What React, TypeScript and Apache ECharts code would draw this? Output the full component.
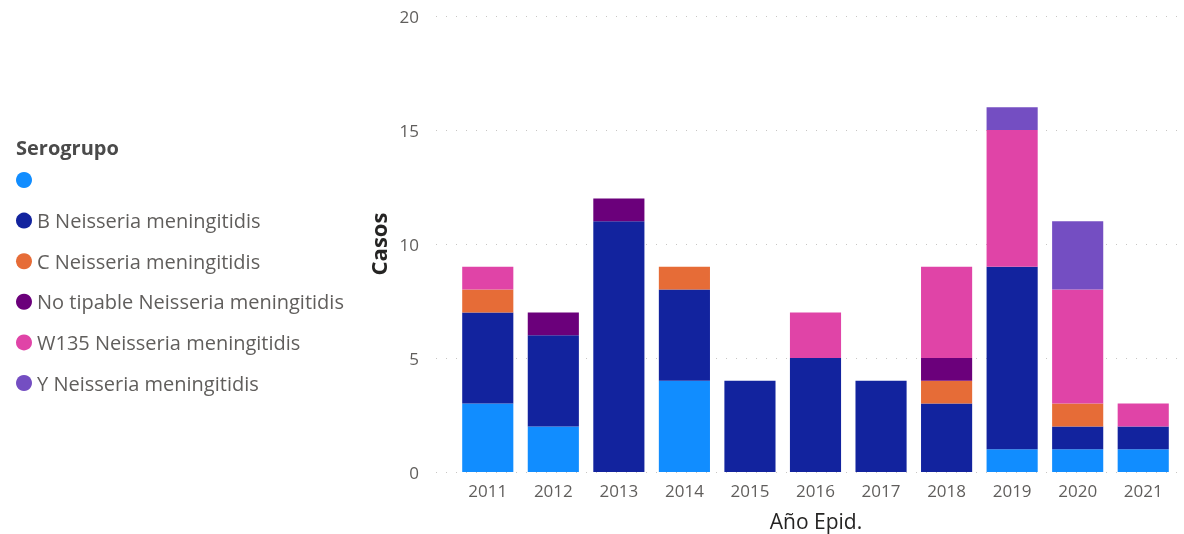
import React, { useEffect, useRef } from "react";
import * as echarts from "echarts";

const years = ["2011", "2012", "2013", "2014", "2015", "2016", "2017", "2018", "2019", "2020", "2021"];
const seriesNames = [
  " ",
  "B Neisseria meningitidis",
  "C Neisseria meningitidis",
  "No tipable Neisseria meningitidis",
  "W135 Neisseria meningitidis",
  "Y Neisseria meningitidis",
];
const colors = ["#118DFF", "#12239E", "#E66C37", "#6B007B", "#E044A7", "#744EC2"];
const blankVals = [3, 2, 0, 4, 0, 0, 0, 0, 1, 1, 1];
const bVals = [4, 4, 11, 4, 4, 5, 4, 3, 8, 1, 1];
const cVals = [1, 0, 0, 1, 0, 0, 0, 1, 0, 1, 0];
const ntVals = [0, 1, 1, 0, 0, 0, 0, 1, 0, 0, 0];
const wVals = [1, 0, 0, 0, 0, 2, 0, 4, 6, 5, 1];
const yVals = [0, 0, 0, 0, 0, 0, 0, 0, 1, 3, 0];
const allVals = [blankVals, bVals, cVals, ntVals, wVals, yVals];

const FONT = "'Open Sans', 'Noto Sans', sans-serif";

export default function App() {
  const ref = useRef<HTMLDivElement>(null);
  useEffect(() => {
    if (!ref.current) return;
    const chart = echarts.init(ref.current, null, { renderer: "svg" });
    chart.setOption({
      animation: false,
      textStyle: { fontFamily: FONT },
      grid: [
        { left: 436, right: 4, top: 16, bottom: 62 },
        { left: 455, right: 8, top: 16, bottom: 62 },
      ],
      legend: {
        orient: "vertical",
        left: 11,
        top: 165,
        icon: "circle",
        itemWidth: 16,
        itemHeight: 16,
        itemGap: 20.6,
        data: seriesNames,
        textStyle: { color: "#605E5C", fontSize: 20, lineHeight: 20, fontFamily: FONT },
        selectedMode: false,
      },
      graphic: [
        {
          type: "text",
          x: 16,
          y: 147,
          style: {
            text: "Serogrupo",
            fill: "#4A4A4A",
            font: `bold 20px ${FONT}`,
            verticalAlign: "middle",
          },
        },
        {
          type: "text",
          x: 378,
          y: 244,
          rotation: Math.PI / 2,
          style: {
            text: "Casos",
            fill: "#252423",
            font: `bold 22px ${FONT}`,
            align: "center",
            verticalAlign: "middle",
          },
        },
        {
          type: "text",
          x: 816,
          y: 521,
          style: {
            text: "Año Epid.",
            fill: "#252423",
            font: `21px ${FONT}`,
            align: "center",
            verticalAlign: "middle",
          },
        },
      ],
      xAxis: [
        { type: "value", gridIndex: 0, show: false, min: 0, max: 1 },
        {
          type: "category",
          gridIndex: 1,
          data: years,
          axisLine: { show: false },
          axisTick: { show: false },
          axisLabel: { color: "#605E5C", fontSize: 17, margin: 10, fontFamily: FONT },
        },
      ],
      yAxis: [
        {
          type: "value",
          gridIndex: 0,
          min: 0,
          max: 20,
          interval: 5,
          axisLine: { show: false },
          axisTick: { show: false },
          axisLabel: { color: "#605E5C", fontSize: 17, margin: 17, fontFamily: FONT },
          splitLine: { lineStyle: { color: "#C8C6C4", type: [1, 9], width: 1 } },
        },
        {
          type: "value",
          gridIndex: 1,
          min: 0,
          max: 20,
          interval: 5,
          show: false,
          splitLine: { show: false },
        },
      ],
      series: seriesNames.map((name, i) => ({
        name,
        type: "bar",
        stack: "total",
        xAxisIndex: 1,
        yAxisIndex: 1,
        barCategoryGap: "22%",
        itemStyle: { color: colors[i] },
        data: allVals[i].map((v) => (v === 0 ? null : v)),
      })),
    });
    return () => chart.dispose();
  }, []);
  return (
    <div
      ref={ref}
      style={{ position: "fixed", left: 0, top: 0, width: 1184, height: 534 }}
    />
  );
}
